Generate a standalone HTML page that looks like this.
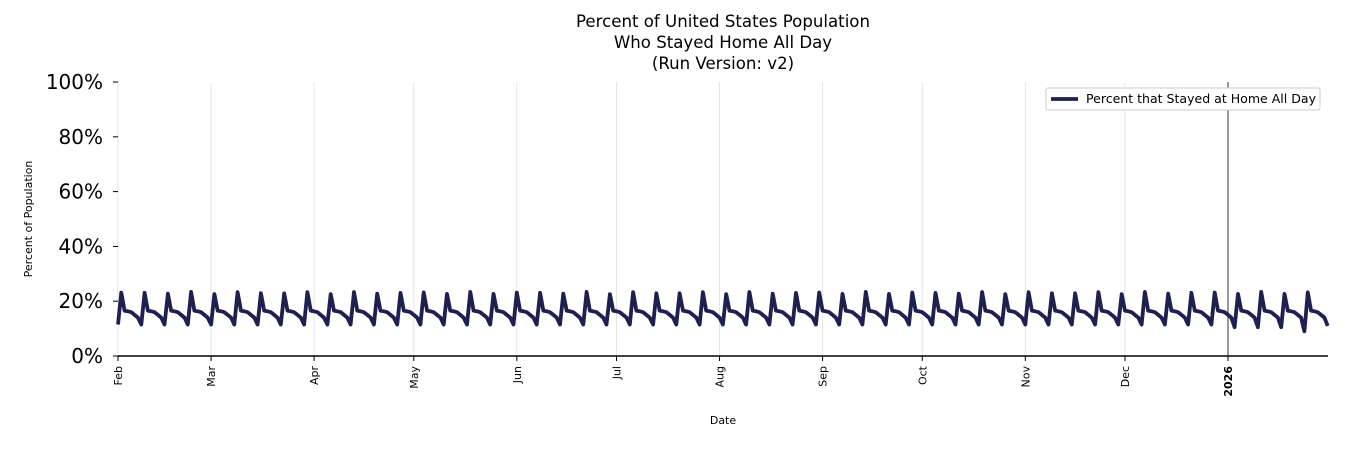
<!DOCTYPE html>
<html><head><meta charset="utf-8"><style>
body{margin:0;background:#fff}
svg{font-family:"DejaVu Sans","Liberation Sans",sans-serif}
</style></head><body>
<svg id="s" width="1350" height="450" xmlns="http://www.w3.org/2000/svg">
<rect width="1350" height="450" fill="#fff"/>
<g font-size="16.6" text-anchor="middle" fill="#000" textLength="294">
<text x="723" y="27" textLength="294" lengthAdjust="spacingAndGlyphs">Percent of United States Population</text>
<text x="723" y="48">Who Stayed Home All Day</text>
<text x="723" y="69">(Run Version: v2)</text>
</g>
<g id="grid" stroke="#e6e6e6" stroke-width="1"></g>
<g id="yt" font-size="20" text-anchor="end"></g>
<line x1="118" y1="356" x2="1328" y2="356" stroke="#000" stroke-width="1.5"/>
<line x1="1228" y1="82" x2="1228" y2="356" stroke="#333" stroke-width="1"/>
<g id="xt" font-size="11"></g>
<polyline id="ln" fill="none" stroke="#1f2050" stroke-width="3.8" stroke-linejoin="round"/>
<text x="723" y="424" font-size="11" text-anchor="middle">Date</text>
<text transform="translate(32,219) rotate(-90)" font-size="11" text-anchor="middle">Percent of Population</text>
<rect x="1046" y="88" width="274" height="22" fill="#fff" stroke="#ccc" rx="2"/>
<line x1="1051" y1="99" x2="1078" y2="99" stroke="#1f2050" stroke-width="3.8"/>
<text x="1086" y="103" font-size="12" textLength="230" lengthAdjust="spacingAndGlyphs">Percent that Stayed at Home All Day</text>
</svg>
<script>
var ns="http://www.w3.org/2000/svg";
function el(p,t,a,txt){var e=document.createElementNS(ns,t);for(var k in a)e.setAttribute(k,a[k]);if(txt)e.textContent=txt;document.getElementById(p).appendChild(e);}
for(var i=0;i<=5;i++){var y=356-i*54.8;el('yt','text',{x:103,y:y+7},(i*20)+'%');el('yt','line',{x1:113,y1:y,x2:118,y2:y,stroke:'#000'});}
var m=[["Feb",0],["Mar",28],["Apr",59],["May",89],["Jun",120],["Jul",150],["Aug",181],["Sep",212],["Oct",242],["Nov",273],["Dec",303],["2026",334]];
var ppd=(1228-118)/334;
m.forEach(function(a){var x=118+a[1]*ppd;if(a[0]!="2026")el('grid','line',{x1:x,y1:82,x2:x,y2:356});
el('xt','line',{x1:x,y1:356,x2:x,y2:361,stroke:'#000'});
el('xt','text',{transform:'translate('+(x+4)+',366) rotate(-90)','text-anchor':'end','font-weight':a[0]=="2026"?'bold':'normal'},a[0]);});
var pat=[11.5,23,16.5,16.3,16,15,14];var pts=[];
for(var d=0;d<=364;d++){var v=pat[d%7];var j=d%7;
if(j==1)v+=Math.sin(d*0.37)*0.4;
if(d>335&&j==0)v-=1;if(d>355&&j==0)v-=1.5;if(d==364)v=11;
pts.push((118+d*ppd).toFixed(1)+','+(356-v*2.74).toFixed(1));}
document.getElementById('ln').setAttribute('points',pts.join(' '));
</script>
</body></html>
